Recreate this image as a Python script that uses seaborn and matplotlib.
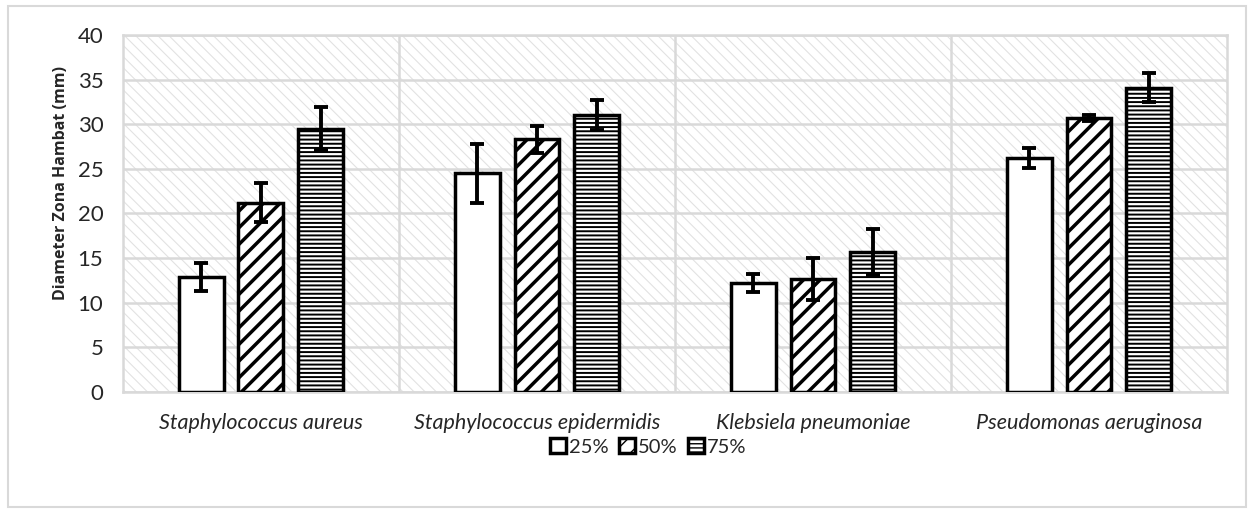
"""
     Diameter zona hambat per bakteri (bar chart with error bars)
"""
import matplotlib
matplotlib.use('Agg')
import matplotlib.pyplot as plt
from matplotlib.patches import Rectangle
import pandas as pd
import seaborn as sns

species=['Staphylococcus aureus','Staphylococcus epidermidis','Klebsiela pneumoniae','Pseudomonas aeruginosa']
levels=['25%','50%','75%']

mean_25=[12.9,24.5,12.2,26.2]
mean_50=[21.2,28.3,12.7,30.7]
mean_75=[29.5,31.0,15.7,34.1]
err_25=[1.6,3.3,1.05,1.1]
err_50=[2.2,1.5,2.35,0.3]
err_75=[2.4,1.65,2.55,1.6]

yticks=[0,5,10,15,20,25,30,35,40]

#long form dataframe for seaborn
df=pd.DataFrame({'species':species*3,
                 'level':[l for l in levels for _ in species],
                 'diameter':mean_25+mean_50+mean_75})
errs=[err_25,err_50,err_75]

sns.set_style('white')
plt.rcParams['font.family']=['Lato','DejaVu Sans']

fig=plt.figure(figsize=(12.54,5.13),dpi=100)
ax=fig.add_axes([0.098,0.236,0.8805,0.696])

sns.barplot(data=df,x='species',y='diameter',hue='level',order=species,hue_order=levels,
            width=0.65,gap=0.25,errorbar=None,palette=['white']*3,
            edgecolor='black',linewidth=2.5,legend=False,ax=ax,zorder=3)

hatches=['','//','----']
hatch_lw=[1,2.5,1.4]
for cont,h,hl,err in zip(ax.containers,hatches,hatch_lw,errs):
     for bar in cont.patches:
          bar.set_hatch(h)
          bar.set_hatch_linewidth(hl)
     xs=[b.get_x()+b.get_width()/2 for b in cont.patches]
     hs=[b.get_height() for b in cont.patches]
     ax.errorbar(xs,hs,yerr=err,fmt='none',ecolor='black',elinewidth=2.8,
                 capsize=5,capthick=2.8,zorder=4)

#hatched grey background
bg=Rectangle((0,0),1,1,transform=ax.transAxes,facecolor='white',edgecolor='#e2e2e2',
             hatch='\\\\\\',linewidth=0,zorder=0)
bg.set_hatch_linewidth(0.8)
ax.add_patch(bg)

ax.set_ylim(0,40)
ax.set_xlim(-0.5,3.5)
ax.set_yticks(yticks)
ax.set_yticklabels([str(t) for t in yticks],fontsize=16)
for t in yticks:
     ax.axhline(t,color='#d9d9d9',linewidth=1.8,zorder=1)
for x in [0.5,1.5,2.5]:
     ax.axvline(x,color='#d9d9d9',linewidth=1.8,zorder=1)
ax.tick_params(axis='y',length=0,pad=14)
ax.tick_params(axis='x',length=0,pad=15)
for lbl in ax.get_xticklabels():
     lbl.set_fontstyle('italic')
     lbl.set_fontsize(15.5)
for s in ax.spines.values():
     s.set_color('#d9d9d9')
     s.set_linewidth(1.8)
ax.set_xlabel('')
ax.set_ylabel('Diameter Zona Hambat (mm)',fontsize=11.5,fontweight='bold',
              family=['Open Sans','DejaVu Sans'])
ax.yaxis.set_label_coords(-0.049,0.585)

ax.legend(ax.containers,levels,loc='center',bbox_to_anchor=(0.476,-0.154),ncol=3,
          frameon=False,fontsize=14.5,handlelength=0.8,handleheight=0.8,handletextpad=0.15,
          columnspacing=0.5)

#outer border of the chart area
fig.patches.append(Rectangle((0.006,0.012),0.988,0.976,transform=fig.transFigure,
                             fill=False,edgecolor='#d9d9d9',linewidth=1.5))

fig.savefig('out.png',dpi=100)
